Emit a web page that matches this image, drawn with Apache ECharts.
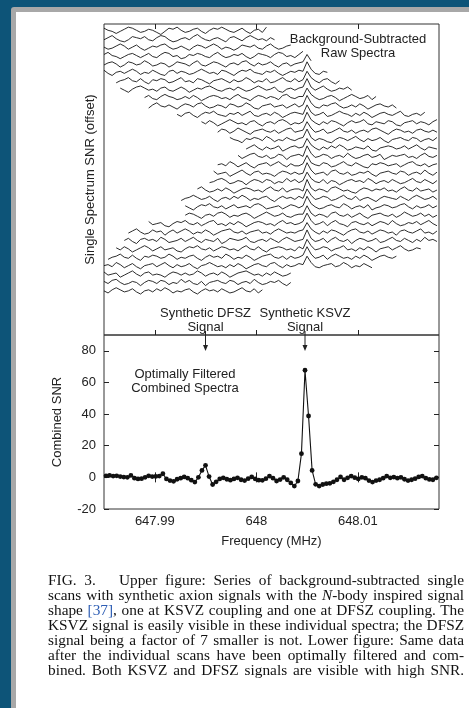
<!DOCTYPE html>
<html>
<head>
<meta charset="utf-8">
<script src="https://cdn.jsdelivr.net/npm/echarts@6/dist/echarts.min.js"></script>
<style>
html,body{margin:0;padding:0;background:#0d5478;overflow:hidden;}
#edge{position:absolute;left:11px;top:7px;right:0;bottom:0;background:#a8a8a8;border-top-left-radius:3px;}
#page{position:absolute;left:16px;top:12px;right:0;bottom:0;background:#fff;}
#main{position:absolute;left:0;top:0;width:469px;height:708px;}
#caption{position:absolute;left:48px;top:573px;width:380px;font-family:"Liberation Serif","Times New Roman",serif;font-size:14px;line-height:15px;color:#111;transform:scaleX(1.095);transform-origin:0 0;}
#caption div{text-align:justify;text-align-last:justify;white-space:nowrap;}
#caption .ref{color:#2d5db4;}
</style>
</head>
<body>
<div id="edge"></div>
<div id="page"></div>
<div id="main"></div>
<div id="caption">
<div>FIG. 3.&nbsp;&nbsp; Upper figure: Series of background-subtracted single</div>
<div>scans with synthetic axion signals with the <i>N</i>-body inspired signal</div>
<div>shape <span class="ref">[37]</span>, one at KSVZ coupling and one at DFSZ coupling. The</div>
<div>KSVZ signal is easily visible in these individual spectra; the DFSZ</div>
<div>signal being a factor of 7 smaller is not. Lower figure: Same data</div>
<div>after the individual scans have been optimally filtered and com-</div>
<div>bined. Both KSVZ and DFSZ signals are visible with high SNR.</div>
</div>
<script>
// frequency axis (MHz)
var freqMin = 647.985;
var freqMax = 648.018;
var freqTicks = [647.99, 648, 648.01];
var dfszFreq = 647.995;
var ksvzFreq = 648.0048;

// upper panel: raw spectra, one bin every 0.0004 MHz
var rawFreqStart = 647.985;
var rawStep = 0.0004;
// first bin of each scan (top scan first)
var traceStart = [0,0,0,0,0,0,3,4,10,11,18,24,28,31,35,33,28,27,26,23,19,20,20,11,6,5,3,1,0,0,0,0];
// vertical offset of each scan
var traceOffset = [290,282,274,266,258,250,242,234,226,218,210,202,194,186,178,170,162,154,146,138,130,122,114,106,98,90,82,74,66,58,50,42];
// single spectrum SNR of each scan
var traceSnr = [
  [2,0,-1,-3,-1,1,3,2,0,-2,-1,1,0,-2,-4,-1,2,1,3,0,-2,-1,1,2,-1,-3,0,2,1,3,1,-1,-2,0,2,-1,-3,0,1,-2,3],
  [-1,1,3,0,-2,-3,-1,2,1,0,2,-1,-2,1,3,2,-1,-3,-2,0,1,-1,2,4,1,-1,-2,0,1,-1,-3,1,2,0,-2,1,3,1,-1,0,-2,1,-1],
  [0,-2,-1,1,3,1,-2,0,2,-1,-3,-1,1,0,2,3,0,-2,-1,1,-1,-3,0,2,1,-1,1,3,1,-2,0,-1,-3,-1,2,1,0,2,-1,-2,1,3,0,-2,-1,1,2],
  [1,3,0,-1,-3,-1,1,2,0,-2,0,2,-1,-2,1,3,2,-1,0,-3,-2,1,0,2,1,-1,-2,1,3,0,-2,-1,1,0,2,-1,-3,-1,2,1,0,-2,1,3,2,-1,0,-2,1,4],
  [-1,1,2,0,-3,-1,2,1,-1,0,3,1,-2,-1,1,0,-3,-1,2,1,0,-2,1,3,-1,-2,0,2,1,-1,-3,0,1,-1,2,3,0,-2,1,-1,0,2,-1,-3,0,1,-2,0,1,2,9,3],
  [2,-1,-3,0,1,-1,1,3,1,-2,0,-1,2,0,-2,-3,1,2,-1,1,0,-2,-1,1,3,1,-1,0,-2,2,1,-1,-3,0,2,1,3,0,-1,-2,1,0,2,-1,-3,-1,1,0,2,1,10,3,-1,-2,1,0],
  [-2,0,1,3,0,-1,2,-1,-3,1,0,2,1,-2,-1,1,3,-1,0,-2,2,1,-1,-3,0,1,2,0,-2,1,-1,0,3,1,-2,0,-1,2,-2,-1,1,3,0,-1,2,-1,1,9,3,0,-2,1,2,-1,-3,0],
  [1,-1,-3,0,2,3,1,-1,0,-2,1,2,-1,-2,0,2,0,-3,-1,1,0,2,3,1,-1,-2,0,1,-1,2,0,-2,-1,1,3,1,-1,0,2,-2,-3,0,1,-1,1,2,10,2,-1,1,3,0,-2,-1,1,0,2,-1],
  [0,2,-1,-2,1,3,1,0,-2,-1,1,-1,2,0,-3,-1,1,2,1,-1,0,-2,1,3,0,-1,-3,0,2,1,-1,1,0,-2,2,3,0,-1,1,1,9,3,0,-2,-1,1,2,0,-3,-1,1,3,1,-1,0,2,-2,1],
  [-2,1,3,0,-1,1,-1,-3,0,2,1,-1,2,3,0,-2,-1,1,0,-2,2,1,-1,0,3,1,-2,-3,0,1,2,-1,0,1,-2,0,2,-1,1,10,3,-1,-2,1,0,2,3,0,-2,-1,1,-1,2,0,-3,-1,1,2,0,-1,1,-2],
  [0,-2,1,2,-1,-3,0,2,1,3,0,-1,-2,1,0,2,-1,1,3,-1,-2,0,1,-1,2,0,-3,-1,1,2,1,0,9,2,-1,0,2,-2,-1,1,3,1,0,-2,1,-1,2,0,-3,-1,1,2,0,-1,1,3,-1,-2,0,1,-1,2],
  [1,-1,2,0,-3,-1,1,3,1,-1,0,-2,1,2,-1,-3,0,1,-1,2,3,1,-2,0,-1,1,10,3,0,-2,1,-1,2,1,-1,-3,0,2,0,1,3,-1,-2,1,0,-1,2,1,-2,-3,0,1,2,-1,1,0,-2,1,3],
  [-1,2,1,-2,0,3,1,-1,-3,0,1,2,0,-1,1,-2,0,2,3,-1,0,1,9,3,-1,0,2,-2,-1,1,3,0,-1,1,-2,0,1,-1,2,3,1,-1,-3,0,2,1,-1,0,-2,1,2,0,-1,1,-1],
  [2,0,-1,-3,1,0,2,1,-1,3,1,-2,0,-1,2,0,-1,1,2,10,2,-1,1,0,-2,-3,0,2,1,-1,1,3,0,-2,1,-1,0,2,-1,-3,0,1,2,0,-1,2,1,-2,0,1,-1,2],
  [-1,1,3,0,-2,1,-1,0,2,-3,-1,1,2,0,1,9,3,0,-2,1,-1,2,0,3,1,-2,-1,1,0,-1,2,-2,-3,0,1,2,1,-1,0,2,-1,1,3,0,-2,1,0,-1],
  [1,-2,0,2,3,0,-1,1,-2,-1,2,1,-3,0,1,2,0,10,3,-1,0,2,1,-2,0,1,-1,3,0,-2,-1,1,2,-1,0,2,-3,-1,1,0,1,2,-1,0,-2,1,3,0,-1,1],
  [0,1,-1,3,1,-2,0,2,-1,-3,0,1,2,-1,1,3,0,-2,1,-1,-1,1,9,2,0,-1,2,1,-2,-1,1,3,0,-1,2,0,-2,-3,1,0,2,1,-1,0,1,-2,0,2,3,0,-1,1,-2,0,1],
  [2,-1,0,1,-3,-1,1,3,0,-2,1,2,-1,0,-1,-3,0,2,1,-1,1,-1,0,10,3,-1,0,1,-2,2,3,0,-1,1,-2,-1,1,0,2,-1,-3,0,1,2,0,-1,2,1,-2,0,1,-1,3,0,-2,1],
  [-1,0,2,3,1,-2,-1,1,0,-3,0,2,1,-1,2,1,-2,0,-1,3,0,2,-1,1,9,3,0,-1,2,-2,1,0,-3,-1,1,2,0,1,-1,3,1,-2,0,1,-1,2,0,-2,-1,1,3,0,-1,2,0,-2,1],
  [1,3,0,-2,-1,1,-1,2,0,-3,-1,1,2,1,-1,0,-2,1,3,0,-1,2,-2,0,1,1,-1,10,2,-1,1,0,-2,2,3,1,-1,0,-2,-3,0,2,1,-1,1,0,2,-1,0,-2,1,3,0,-1,2,-1,0,1,-2,0],
  [-2,0,1,3,1,-1,0,2,-1,-3,0,1,-1,2,0,3,1,-2,0,-1,1,2,-1,-3,0,2,0,1,-1,2,0,9,3,-1,0,2,1,-2,-1,1,3,0,-1,2,-2,0,1,-1,-3,0,2,1,0,-1,2,0,-2,1,3,1,-1,0,2,-1],
  [1,-1,-3,0,2,1,3,0,-1,1,-2,0,2,-1,0,1,-1,2,3,1,-2,-1,0,1,-2,0,2,1,-1,1,10,3,0,-2,-1,1,2,0,-1,3,1,-2,0,1,-1,2,-3,-1,0,2,1,-1,0,2,3,0,-2,1,-1,0,2,-1,1],
  [0,2,1,-1,-3,0,1,-1,2,3,1,-2,0,-1,1,2,0,-3,-1,1,3,1,-1,0,2,-1,-2,0,1,1,9,2,-1,1,0,-2,2,3,0,-1,1,-2,0,2,-1,-3,0,1,2,0,-1,1,-2,0,3,1,-1,0,2,-1,1,-2,0],
  [2,-1,0,1,-2,-3,0,2,1,3,0,-1,1,-2,0,2,3,-1,0,-2,1,-1,2,0,-3,-1,1,2,1,-1,0,-2,1,3,0,1,-1,0,2,10,3,-1,0,2,-2,1,3,0,-1,-3,1,2,0,-1,1,-2,0,2,1,-1,3,0,-2,-1,1,0,2,-1,1,3,0,-2],
  [-1,1,3,0,-2,-1,2,0,1,-3,0,2,-1,1,3,1,-2,0,-1,2,0,-3,-1,1,2,3,0,-1,1,-2,0,1,2,-1,0,-2,1,3,1,-1,0,-1,1,2,9,3,0,-2,1,-1,2,1,-1,-3,0,2,3,0,-1,1,-2,0,2,1,-1,0,-3,1,2,0,-1,1,3,-1,0,-2,1],
  [0,2,-1,-3,1,2,0,1,-1,3,1,-2,-1,0,2,-1,1,3,0,-2,1,0,-1,2,-3,-1,2,1,0,1,3,-1,-2,0,1,-1,2,0,-2,1,3,1,-1,0,1,10,2,-1,0,2,-2,1,3,0,-1,1,-3,0,2,1,-1,0,2,-2,-1,1,3,0,-1,2,0,-2,1,-1,3,0,1,-1],
  [1,-1,2,0,-3,-1,1,3,1,-2,0,2,-1,0,1,-2,-3,0,2,1,3,0,-1,1,-2,0,2,1,-1,0,-2,1,3,0,-1,2,-1,-3,0,1,2,1,-1,0,-2,2,0,9,3,-1,0,2,1,-2,0,1,3,-1,0,-2,1,-1,2,0,-3,0,1,2,-1,1,3,0,-2,-1,1,0],
  [-2,0,1,3,0,-1,2,-1,-3,1,0,2,1,-1,0,3,1,-2,0,-1,1,2,-1,-3,0,2,0,1,-1,3,1,-2,0,-1,2,0,-3,-1,1,2,3,0,-1,1,-2,1,-1,0,2,10,3,-1,0,2,-2,1,3,1,-1,0,-2,1,-1,2,0,-3,-1,1,2,0,-1,1],
  [0,1,-1,3,1,-2,0,2,-1,-3,0,1,2,-1,1,3,0,-2,1,-1,0,2,-1,-3,0,1,3,1,-1,0,-2,1,-1,2,0,-3,-1,1,2,0,-1,2,3,0,-2,1,-1,0,2,1,9,3,-1,-2,0,1,2,-1,0,3,1,-2,0,-1,2,0,-2],
  [2,-1,0,1,-3,-1,1,3,0,-2,1,2,-1,0,-1,-3,0,2,1,-1,1,-1,0,3,1,-2,0,1,-1,2,0,-3,-1,1,2,3,1,-1,0,-2,1,-1,2,0,-2,-1,1],
  [1,-1,2,3,0,-2,-1,1,0,-3,0,2,1,-1,2,1,-2,0,-1,3,0,2,-1,-2,1,-3,0,1,2,0,-1,2,1,-2,0,1,-1,3,0,-2,-1,1,0,2,-1,-3,0],
  [0,-2,1,3,1,-1,0,2,-1,-3,0,1,-1,2,0,3,1,-2,0,-1,1,2,-1,-3,0,2,0,1,-1,2,0,-2,-1,1,3,0,-1,2,-2,1]
];

// lower panel: optimally filtered combined spectrum, one bin every 0.00035 MHz
var combFreqStart = 647.9852;
var combStep = 0.00035;
var combSnr = [
  1.0,1.2,0.8,1.0,0.5,0.2,0.0,1.2,-0.5,-1.0,
  -0.8,0.0,1.0,0.5,0.6,0.8,2.3,-1.0,-2.0,-2.5,
  -1.2,-0.5,0.3,-0.5,-1.8,-3.0,0.0,4.4,7.6,0.5,
  -4.5,-2.8,-1.0,-0.3,-1.2,-1.8,-1.0,-0.3,-1.5,-2.0,
  -0.8,0.3,-1.0,-1.8,-1.9,-0.8,0.8,-0.5,-2.3,-1.4,
  0.0,-1.5,-3.5,-5.5,-2.3,15.0,67.7,38.8,4.4,-4.4,
  -5.5,-4.5,-4.0,-3.8,-2.8,-1.5,0.3,-1.5,-0.3,0.8,
  -0.2,-1.0,0.0,-0.5,-2.0,-3.0,-2.0,-1.5,-0.5,0.8,
  -0.3,0.2,-0.5,0.0,-1.2,-2.0,-1.5,-0.8,0.3,0.8,
  -0.5,-1.3,-1.5,-0.3
];
var snrTicks = [-20, 0, 20, 40, 60, 80];

var ink = '#222';
var font = 'Liberation Sans, Arial, Helvetica, sans-serif';

function freqAxis(grid, pos, labels) {
  return {
    type: 'value', gridIndex: grid, position: pos, min: freqMin, max: freqMax,
    axisLine: { show: false },
    axisTick: { show: true, inside: true, length: 5, customValues: freqTicks, lineStyle: { color: ink, width: 1 } },
    axisLabel: { show: labels, customValues: freqTicks, margin: 6, color: ink, fontSize: 13, fontFamily: font,
      formatter: function (v) { return String(+v.toFixed(2)); } },
    splitLine: { show: false }
  };
}

var series = [];
traceSnr.forEach(function (vals, t) {
  series.push({
    type: 'line', xAxisIndex: 0, yAxisIndex: 0, symbol: 'none', silent: true,
    lineStyle: { color: '#151515', width: 0.9 },
    data: vals.map(function (v, k) {
      return [rawFreqStart + rawStep * (traceStart[t] + k), traceOffset[t] + v];
    })
  });
});
series.push({
  type: 'line', xAxisIndex: 2, yAxisIndex: 1, symbol: 'circle', symbolSize: 4.8,
  lineStyle: { color: '#111', width: 1.1 }, itemStyle: { color: '#111' },
  data: combSnr.map(function (v, j) { return [combFreqStart + combStep * j, v]; })
});

var chart = echarts.init(document.getElementById('main'), null, { renderer: 'canvas' });
chart.setOption({
  animation: false,
  backgroundColor: 'transparent',
  textStyle: { fontFamily: font },
  grid: [
    { left: 104, top: 24, width: 335, height: 311, show: true, borderColor: '#333', borderWidth: 1, backgroundColor: 'transparent', outerBoundsMode: 'none' },
    { left: 104, top: 335, width: 335, height: 174, show: true, borderColor: '#333', borderWidth: 1, backgroundColor: 'transparent', outerBoundsMode: 'none' }
  ],
  xAxis: [
    freqAxis(0, 'bottom', false),
    freqAxis(0, 'top', false),
    Object.assign(freqAxis(1, 'bottom', true), {
      name: 'Frequency (MHz)', nameLocation: 'middle', nameGap: 26,
      nameTextStyle: { color: ink, fontSize: 13, fontFamily: font }
    }),
    freqAxis(1, 'top', false)
  ],
  yAxis: [
    {
      type: 'value', gridIndex: 0, min: 0, max: 296,
      axisLine: { show: false }, axisTick: { show: false }, axisLabel: { show: false }, splitLine: { show: false },
      name: 'Single Spectrum SNR (offset)', nameLocation: 'middle', nameGap: 7,
      nameTextStyle: { color: ink, fontSize: 13, fontFamily: font }
    },
    {
      type: 'value', gridIndex: 1, min: -20, max: 90, position: 'left',
      axisLine: { show: false },
      axisTick: { show: true, inside: true, length: 5, customValues: snrTicks, lineStyle: { color: ink } },
      axisLabel: { show: true, customValues: snrTicks, margin: 8, color: ink, fontSize: 13, fontFamily: font },
      splitLine: { show: false },
      name: 'Combined SNR', nameLocation: 'middle', nameGap: 40,
      nameTextStyle: { color: ink, fontSize: 13, fontFamily: font }
    },
    {
      type: 'value', gridIndex: 1, min: -20, max: 90, position: 'right',
      axisLine: { show: false },
      axisTick: { show: true, inside: true, length: 5, customValues: snrTicks, lineStyle: { color: ink } },
      axisLabel: { show: false }, splitLine: { show: false }
    }
  ],
  series: series
});

// annotations placed through the frequency scale
var xd = chart.convertToPixel({ xAxisIndex: 2 }, dfszFreq);
var xk = chart.convertToPixel({ xAxisIndex: 2 }, ksvzFreq);
function arrow(x) {
  return [
    { type: 'line', shape: { x1: x, y1: 331, x2: x, y2: 349 }, style: { stroke: ink, lineWidth: 1 }, z: 10 },
    { type: 'polygon', shape: { points: [[x - 2.5, 345], [x + 2.5, 345], [x, 351]] }, style: { fill: ink }, z: 10 }
  ];
}
function label(text, x, y) {
  return { type: 'text', x: x, y: y, z: 10,
    style: { text: text, fill: ink, font: '13px ' + font, textAlign: 'center', textVerticalAlign: 'top', lineHeight: 14 } };
}
chart.setOption({
  graphic: [
    label('Background-Subtracted\nRaw Spectra', 358, 32),
    label('Synthetic DFSZ\nSignal', xd, 306),
    label('Synthetic KSVZ\nSignal', xk, 306),
    label('Optimally Filtered\nCombined Spectra', 185, 367)
  ].concat(arrow(xd), arrow(xk))
});
</script>
</body>
</html>
